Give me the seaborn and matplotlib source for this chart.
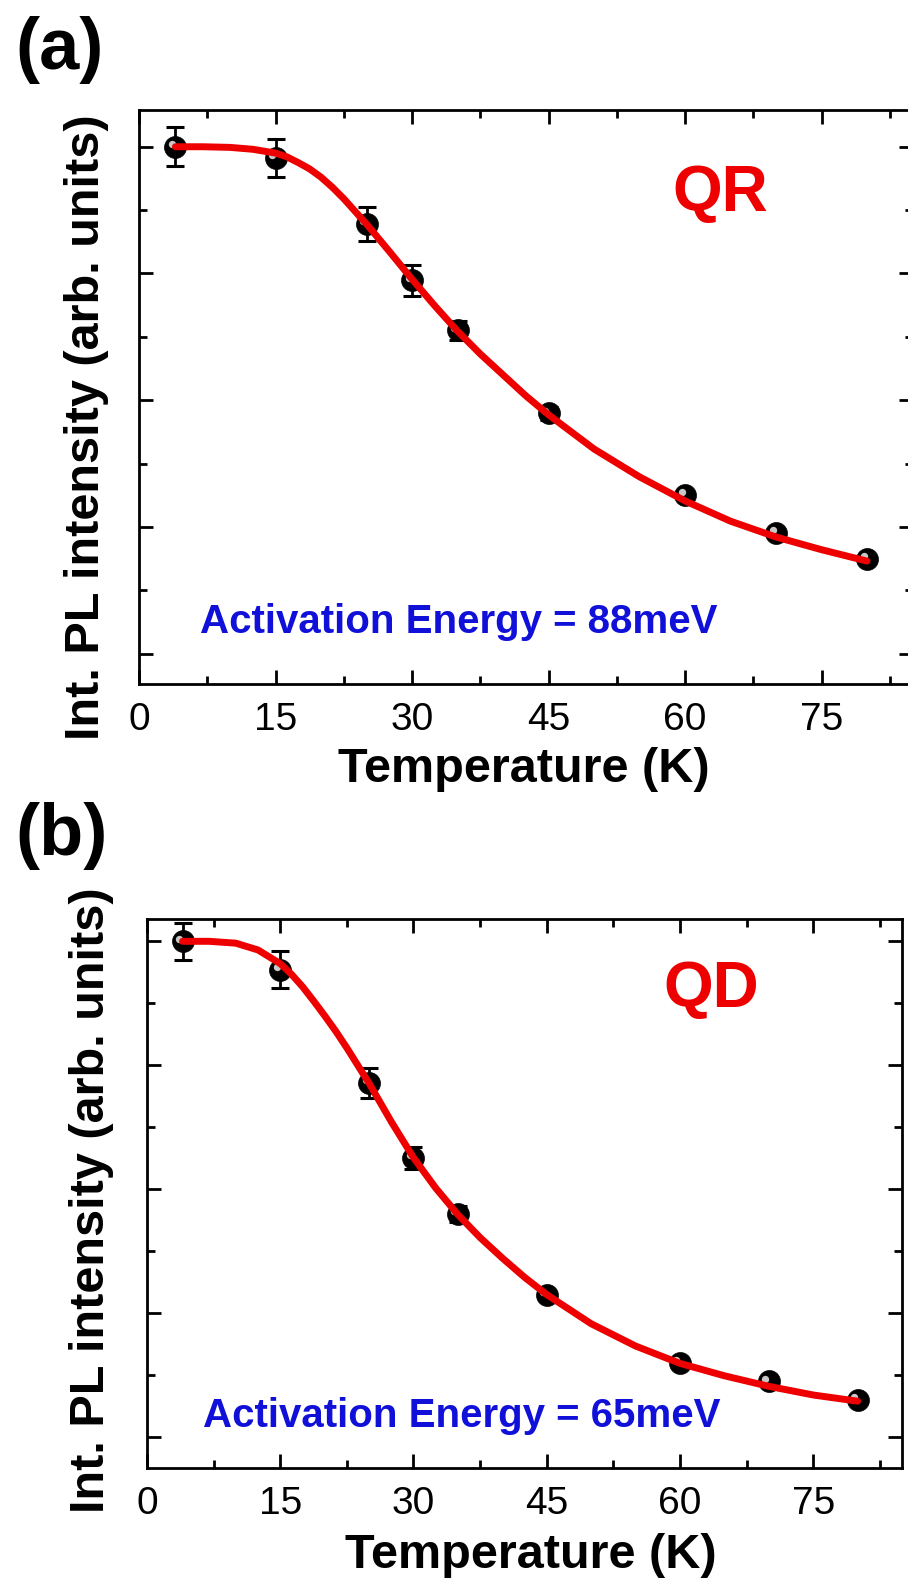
import matplotlib
matplotlib.use('Agg')
import matplotlib.pyplot as plt
import matplotlib.ticker as ticker
import matplotlib.transforms as mtransforms
import seaborn as sns

# measured points (normalised integrated PL intensity)
temps = [4, 15, 25, 30, 35, 45, 60, 70, 80]
qr_int = [1.0, 0.983, 0.878, 0.789, 0.710, 0.579, 0.450, 0.390, 0.350]
qr_err = [0.031, 0.030, 0.027, 0.0245, 0.015, 0.010, 0.006, 0.006, 0.006]
qd_int = [1.0, 0.954, 0.771, 0.650, 0.560, 0.430, 0.320, 0.290, 0.260]
qd_err = [0.030, 0.030, 0.024, 0.018, 0.013, 0.007, 0.006, 0.006, 0.006]

# fit curves
fit_t = [4, 7, 10, 12.5, 15, 16.25, 17.5, 18.75, 20, 21.25, 22.5, 25, 27.5,
         30, 32.5, 35, 37.5, 40, 42.5, 45, 50, 55, 60, 65, 70, 75, 80]
qr_fit = [1.0, 1.0, 0.999, 0.996, 0.990, 0.984, 0.975, 0.965, 0.952, 0.936,
          0.918, 0.878, 0.835, 0.791, 0.749, 0.709, 0.673, 0.640, 0.607,
          0.577, 0.523, 0.479, 0.441, 0.409, 0.384, 0.364, 0.346]
qd_fit = [1.0, 1.0, 0.997, 0.986, 0.964, 0.947, 0.927, 0.904, 0.880, 0.855,
          0.828, 0.771, 0.709, 0.651, 0.602, 0.559, 0.522, 0.489, 0.458,
          0.430, 0.383, 0.347, 0.319, 0.299, 0.282, 0.268, 0.258]

sns.set_theme(style='ticks')
plt.rcParams['font.family'] = ['Liberation Sans', 'DejaVu Sans']
plt.rcParams['text.color'] = 'black'
plt.rcParams['axes.labelcolor'] = 'black'
plt.rcParams['xtick.color'] = 'black'
plt.rcParams['ytick.color'] = 'black'

fig = plt.figure(figsize=(9.08, 15.85), dpi=100)
ax_a = fig.add_axes([139 / 908, 1 - 684 / 1585, 773.5 / 908, 574 / 1585])
ax_b = fig.add_axes([147 / 908, 1 - 1467.5 / 1585, 755 / 908, 548.5 / 1585])


def draw_panel(ax, vals, errs, fit_vals, tag, energy, ylim, tag_pos, en_pos):
    ax.errorbar(temps, vals, yerr=errs, fmt='none', ecolor='black',
                elinewidth=2, capsize=6.5, capthick=2.2, zorder=2)
    sns.scatterplot(x=temps, y=vals, ax=ax, color='black', s=250,
                    edgecolor='black', linewidth=0.5, zorder=3)
    # little highlight so the dots look like spheres
    shine = mtransforms.offset_copy(ax.transData, fig=fig, x=-2.5, y=2, units='points')
    ax.scatter(temps, vals, s=28, color='#c8c8c8', linewidths=0,
               transform=shine, zorder=4)
    sns.lineplot(x=fit_t, y=fit_vals, ax=ax, color='#ee0000', linewidth=5,
                 sort=False, estimator=None, zorder=5)

    ax.set_xlim(0, 85)
    ax.set_ylim(*ylim)
    ax.set_xlabel('')
    ax.set_ylabel('')
    ax.xaxis.set_major_locator(ticker.MultipleLocator(15))
    ax.xaxis.set_minor_locator(ticker.MultipleLocator(7.5))
    ax.yaxis.set_major_locator(ticker.MultipleLocator(0.2))
    ax.yaxis.set_minor_locator(ticker.MultipleLocator(0.1))
    ax.tick_params(which='both', direction='in', top=True, right=True,
                   width=2, color='black', labelleft=False, labelright=False)
    ax.tick_params(which='major', length=10, labelsize=28, pad=13)
    ax.tick_params(which='minor', length=5.5)
    for sp in ax.spines.values():
        sp.set_linewidth(2)
        sp.set_color('black')

    ax.text(tag_pos[0], tag_pos[1], tag, transform=ax.transAxes, color='#ee0000',
            fontsize=46, fontweight='bold', ha='center', va='center')
    ax.text(en_pos[0], en_pos[1], 'Activation Energy = ' + energy,
            transform=ax.transAxes, color='#1010d8', fontsize=29,
            fontweight='bold', ha='center', va='center')


draw_panel(ax_a, qr_int, qr_err, qr_fit, 'QR', '88meV', (0.152, 1.058),
           (0.752, 0.854), (0.414, 0.108))
draw_panel(ax_b, qd_int, qd_err, qd_fit, 'QD', '65meV', (0.151, 1.036),
           (0.747, 0.871), (0.4166, 0.094))

fig.text(60 / 908, 1 - 50 / 1585, '(a)', fontsize=52, fontweight='bold',
         ha='center', va='center')
fig.text(62 / 908, 1 - 836 / 1585, '(b)', fontsize=52, fontweight='bold',
         ha='center', va='center')

fig.text(524 / 908, 1 - 770 / 1585, 'Temperature (K)', fontsize=35,
         fontweight='bold', ha='center', va='center')
fig.text(531 / 908, 1 - 1556 / 1585, 'Temperature (K)', fontsize=35,
         fontweight='bold', ha='center', va='center')
fig.text(87 / 908, 1 - 427 / 1585, 'Int. PL intensity (arb. units)', fontsize=35,
         fontweight='bold', rotation=90, ha='center', va='center')
fig.text(92 / 908, 1 - 1200 / 1585, 'Int. PL intensity (arb. units)', fontsize=35,
         fontweight='bold', rotation=90, ha='center', va='center')

fig.savefig('out.png', dpi=100)
